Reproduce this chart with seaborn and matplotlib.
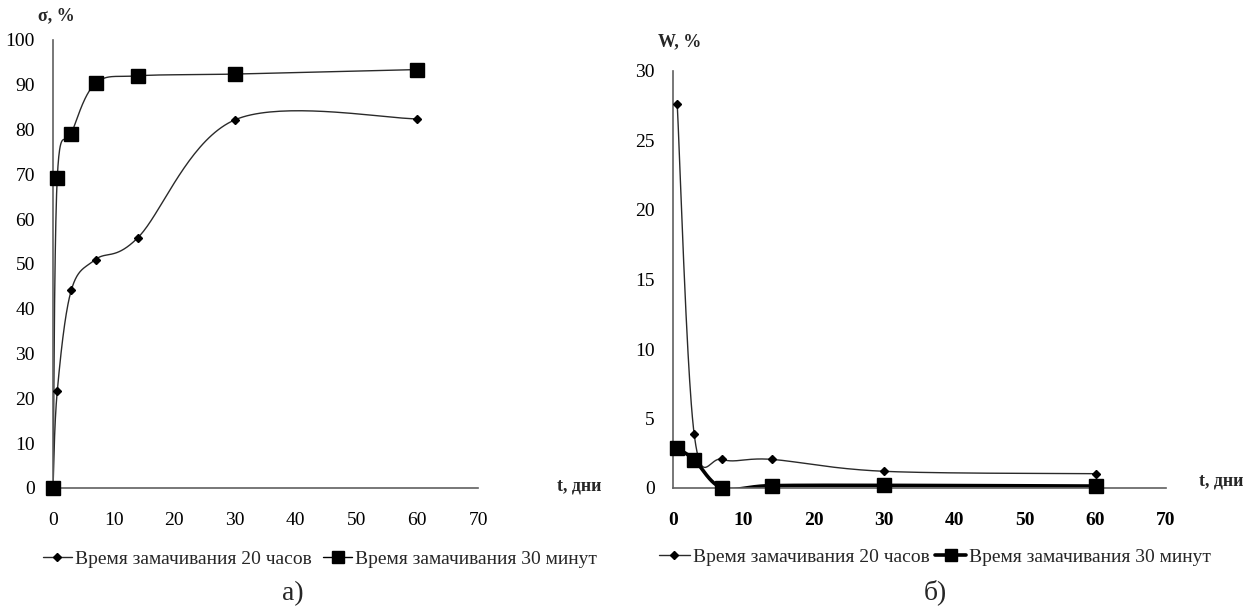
import numpy as np
import pandas as pd
import matplotlib
matplotlib.use("Agg")
import matplotlib.pyplot as plt
from matplotlib.lines import Line2D
import seaborn as sns

# ---- data ----
t_a = [0, 0.7, 3, 7, 14, 30, 60]
sigma_20h = [0, 21.6, 44.1, 51.0, 55.9, 82.2, 82.4]
sigma_30m = [0, 69.2, 79.0, 90.3, 92.0, 92.4, 93.4]

t_b = [0.6, 3, 7, 14, 30, 60]
w_20h = [27.6, 3.9, 2.06, 2.06, 1.2, 1.03]
w_30m = [2.85, 2.04, 0.0, 0.17, 0.19, 0.14]

label_20h = "Время замачивания 20 часов"
label_30m = "Время замачивания 30 минут"

sns.set_style("white")
plt.rcParams['font.family'] = ['Liberation Serif', 'DejaVu Serif']

def smooth(x, y, sx, sy, n=40):
    """Excel-like smoothed line (uniform Catmull-Rom / Bezier) in pixel space."""
    P = np.column_stack([np.asarray(x, float) * sx, np.asarray(y, float) * sy])
    P = np.vstack([P[0], P, P[-1]])
    out = []
    for i in range(1, len(P) - 2):
        p0, p1, p2, p3 = P[i - 1], P[i], P[i + 1], P[i + 2]
        c1 = p1 + (p2 - p0) / 6.0
        c2 = p2 - (p3 - p1) / 6.0
        s = np.linspace(0, 1, n)[:, None]
        seg = ((1 - s) ** 3) * p1 + 3 * ((1 - s) ** 2) * s * c1 + 3 * (1 - s) * s ** 2 * c2 + s ** 3 * p2
        out.append(seg if i == 1 else seg[1:])
    seg = np.vstack(out)
    return pd.DataFrame({"x": seg[:, 0] / sx, "y": seg[:, 1] / sy})

fig = plt.figure(figsize=(12.57, 6.10), dpi=100)
axA = fig.add_axes([53 / 1257, 0.2, 425 / 1257, 448 / 610])
axB = fig.add_axes([673 / 1257, 0.2, 493 / 1257, 417 / 610])

line_col = "#2a2a2a"
axis_col = "#606060"

# panel a
for yv, mk, ms in [(sigma_20h, "D", 4.5), (sigma_30m, "s", 10)]:
    df = smooth(t_a, yv, 425 / 70, 448 / 100)
    sns.lineplot(data=df, x="x", y="y", sort=False, estimator=None, ax=axA,
                 color=line_col, lw=1.0)
    axA.plot(t_a, yv, linestyle="none", marker=mk, ms=ms, color="black",
             clip_on=False, zorder=5)

# panel b
for yv, mk, ms, lw in [(w_20h, "D", 4.5, 1.0), (w_30m, "s", 10, 2.6)]:
    df = smooth(t_b, yv, 493 / 70, 417 / 30)
    sns.lineplot(data=df, x="x", y="y", sort=False, estimator=None, ax=axB,
                 color="black" if lw > 1.5 else line_col, lw=lw)
    axB.plot(t_b, yv, linestyle="none", marker=mk, ms=ms, color="black",
             clip_on=False, zorder=5)

for ax, ymax, ystep in [(axA, 100, 10), (axB, 30, 5)]:
    ax.set_xlim(0, 70)
    ax.set_ylim(0, ymax)
    ax.set_xticks(np.arange(0, 71, 10))
    ax.set_yticks(np.arange(0, ymax + 1, ystep))
    ax.set_xlabel("")
    ax.set_ylabel("")
    for s in ["top", "right"]:
        ax.spines[s].set_visible(False)
    for s in ["left", "bottom"]:
        ax.spines[s].set_color(axis_col)
        ax.spines[s].set_linewidth(1.2)
    ax.tick_params(axis="both", direction="out", length=5, width=1.2,
                   color=axis_col, labelsize=14, labelcolor="black")
    ax.tick_params(axis="x", pad=12)
    ax.tick_params(axis="y", pad=8)
    ax.set_facecolor("white")

for lab in axB.get_xticklabels():
    lab.set_fontweight("bold")

fig.text(38 / 1257, 1 - 16 / 610, "σ, %", fontsize=13, fontweight="bold", va="center", ha="left")
fig.text(658 / 1257, 1 - 42 / 610, "W, %", fontsize=13, fontweight="bold", va="center", ha="left")
fig.text(557 / 1257, 1 - 486 / 610, "t, дни", fontsize=13, fontweight="bold", va="center", ha="left")
fig.text(1199 / 1257, 1 - 481 / 610, "t, дни", fontsize=13, fontweight="bold", va="center", ha="left")

def handles(lw2):
    return [Line2D([], [], color=line_col, lw=1.0, marker="D", ms=4.5, mfc="black", mec="black"),
            Line2D([], [], color="black", lw=lw2, marker="s", ms=8, mfc="black", mec="black")]

fig.legend(handles(1.0), [label_20h, label_30m], loc="center", ncol=2,
           bbox_to_anchor=(320 / 1257, 1 - 559 / 610), frameon=False, fontsize=14,
           handlelength=1.5, handletextpad=0.15, columnspacing=0.6)
fig.legend(handles(2.6), [label_20h, label_30m], loc="center", ncol=2,
           bbox_to_anchor=(935 / 1257, 1 - 557 / 610), frameon=False, fontsize=14,
           handlelength=1.6, handletextpad=0.15, columnspacing=0.3)

fig.text(293 / 1257, 1 - 594 / 610, "а)", fontsize=20, ha="center", va="center")
fig.text(935 / 1257, 1 - 592 / 610, "б)", fontsize=20, ha="center", va="center")

fig.savefig("out.png", dpi=100, facecolor="white")
